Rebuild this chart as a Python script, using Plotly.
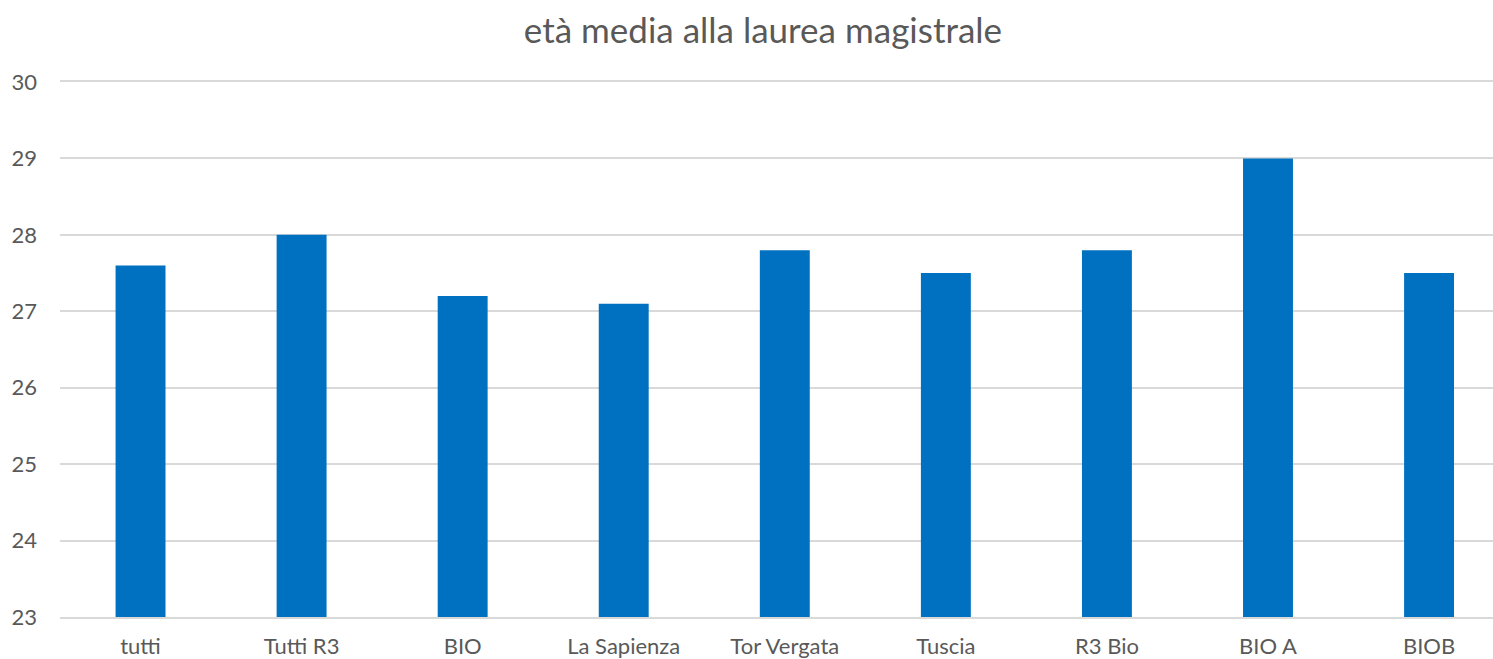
import plotly.graph_objects as go

categories = ["tutti", "Tutti R3", "BIO", "La Sapienza", "Tor Vergata", "Tuscia", "R3 Bio", "BIO A", "BIOB"]
values = [27.6, 28.0, 27.2, 27.1, 27.8, 27.5, 27.8, 29.0, 27.5]
y_ticks = [23, 24, 25, 26, 27, 28, 29, 30]

fig = go.Figure(go.Bar(x=list(range(len(categories))), y=values, marker_color="#0070C0",
                       marker_line_width=0, hoverinfo="skip"))

fig.update_layout(
    width=1493, height=659, autosize=False,
    margin=dict(l=60, r=0, t=82, b=42, autoexpand=False),
    paper_bgcolor="white", plot_bgcolor="white",
    bargap=0.69,
    showlegend=False,
    font=dict(family="Lato", color="#595959", size=22),
    title=dict(text="età media alla laurea magistrale", x=0.511, xanchor="center",
               y=0.954, yanchor="middle", font=dict(size=35, color="#595959", family="Lato")),
)
fig.update_xaxes(range=[-0.5, 8.397], tickmode="array", tickvals=list(range(len(categories))),
                 ticktext=categories, showgrid=False, zeroline=False,
                 showline=True, mirror=True, linecolor="#d9d9d9", linewidth=1.5,
                 ticks="", ticklabelstandoff=9, automargin=False,
                 tickfont=dict(size=22, color="#595959"))
fig.update_yaxes(range=[23, 30], tickvals=y_ticks, showgrid=True, gridcolor="#d9d9d9", gridwidth=1.5,
                 zeroline=False, showline=False, ticks="", ticklabelstandoff=22, automargin=False,
                 tickfont=dict(size=22, color="#595959"))

fig.write_html("out.html", config={"displayModeBar": False},
               post_script="document.body.style.margin='0';document.body.style.overflow='hidden';")
